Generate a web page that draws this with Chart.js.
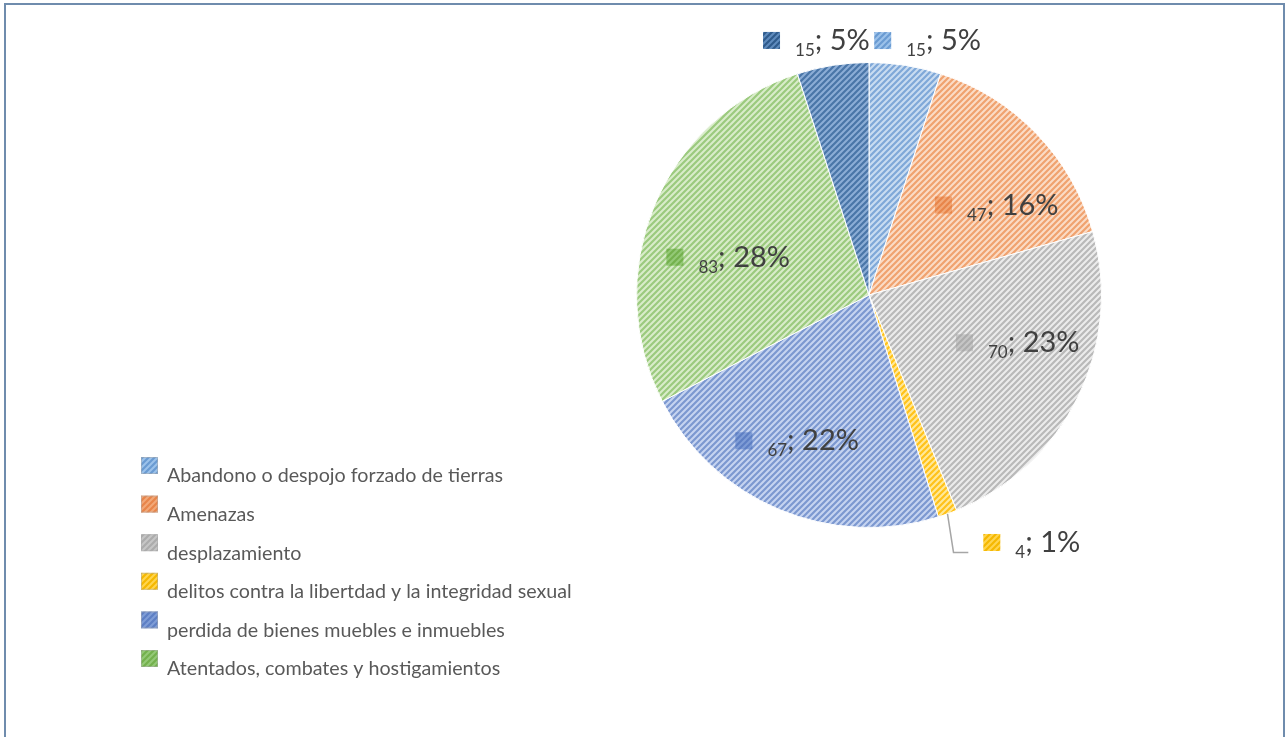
<!DOCTYPE html>
<html>
<head>
<meta charset="utf-8">
<script src="https://cdn.jsdelivr.net/npm/chart.js@4.4.1/dist/chart.umd.min.js"></script>
<style>
  html, body { margin: 0; padding: 0; background: #ffffff; overflow: hidden; }
  #wrap { position: relative; width: 1286px; height: 737px; }
  #frame { position: absolute; left: 4px; top: 3px; width: 1277px; height: 760px;
           border: 2px solid #6f8cad; border-bottom: none; pointer-events: none; }
  canvas { position: absolute; left: 0; top: 0; }
</style>
</head>
<body>
<div id="wrap">
  <canvas id="c" width="1286" height="737"></canvas>
  <div id="frame"></div>
</div>
<script>
// ---- data ----
const categories = [
  "Abandono o despojo forzado de tierras",
  "Amenazas",
  "desplazamiento",
  "delitos contra la libertdad y la integridad sexual",
  "perdida de bienes muebles e inmuebles",
  "Atentados, combates y hostigamientos",
  ""
];
const values = [15, 47, 70, 4, 67, 83, 15];

// ---- styles ----
const baseColors   = ["#c9dcf1", "#fbdcc6", "#ececec", "#ffe89a", "#c6d4f0", "#d9ecca", "#8cadd6"];
const stripeColors = ["#7fa8d8", "#f0a26f", "#b9b9b9", "#ffc21a", "#7c98d0", "#9bca7e", "#4a76a8"];
const markerBase   = ["#9cc2ea", "#f2a878", "#c6c6c6", "#ffd54f", "#7f9dd6", "#94c977", "#5f8bbd"];
const markerStripe = ["#6a9bd2", "#e8854a", "#acacac", "#f5b800", "#5e7fc4", "#74b14d", "#2f5b8c"];
// label placement: [angle shift from slice middle (deg), radius factor]
const labelPlace = [[4, 1.123], [8.8, 0.672], [-8.2, 0.672], [-13.6, 1.274], [3.5, 0.699], [-7.4, 0.627], [-2.7, 1.118]];
const leaderFor = [false, false, false, true, false, false, false];
const FONT = "Lato, 'Open Sans', sans-serif";

function makePattern(bg, fg) {
  const c = document.createElement('canvas');
  c.width = 6; c.height = 6;
  const g = c.getContext('2d');
  g.fillStyle = bg; g.fillRect(0, 0, 6, 6);
  g.strokeStyle = fg; g.lineWidth = 2.2;
  g.beginPath();
  g.moveTo(-1, 7); g.lineTo(7, -1);
  g.moveTo(-2, 2); g.lineTo(2, -2);
  g.moveTo(4, 8); g.lineTo(8, 4);
  g.stroke();
  return g.createPattern(c, 'repeat');
}
const patterns = baseColors.map((b, i) => makePattern(b, stripeColors[i]));
const markerPatterns = markerBase.map((b, i) => makePattern(b, markerStripe[i]));

const labelPlugin = {
  id: 'labels',
  afterDatasetsDraw(chart) {
    const ctx = chart.ctx;
    const meta = chart.getDatasetMeta(0);
    const data = chart.data.datasets[0].data;
    const total = data.reduce((a, b) => a + b, 0);
    ctx.save();
    meta.data.forEach((arc, i) => {
      const p = arc.getProps(['x', 'y', 'startAngle', 'endAngle', 'outerRadius'], true);
      const midRaw = (p.startAngle + p.endAngle) / 2;
      const mid = midRaw + labelPlace[i][0] * Math.PI / 180;
      const r = p.outerRadius * labelPlace[i][1];
      const cx = p.x + Math.cos(mid) * r;
      const cy = p.y + Math.sin(mid) * r;
      const small = String(data[i]);
      const big = '; ' + Math.round(data[i] / total * 100) + '%';
      ctx.font = "17px " + FONT;
      const sw = ctx.measureText(small).width;
      ctx.font = "29px " + FONT;
      const bw = ctx.measureText(big).width;
      const mW = 17, gap = 15;
      const totalW = mW + gap + sw + bw;
      const left = cx - totalW / 2;
      // marker
      ctx.fillStyle = markerPatterns[i];
      ctx.fillRect(left, cy - 8.5, mW, mW);
      // text
      ctx.fillStyle = '#404040';
      ctx.textBaseline = 'alphabetic';
      ctx.textAlign = 'left';
      ctx.font = "17px " + FONT;
      ctx.fillText(small, left + mW + gap, cy + 15.5);
      ctx.font = "29px " + FONT;
      ctx.fillText(big, left + mW + gap + sw, cy + 9.5);
      if (leaderFor[i]) {
        const sx = p.x + Math.cos(midRaw) * p.outerRadius;
        const sy = p.y + Math.sin(midRaw) * p.outerRadius;
        const ly = cy + 10;
        ctx.strokeStyle = '#a6a6a6';
        ctx.lineWidth = 1.5;
        ctx.beginPath();
        ctx.moveTo(sx, sy);
        ctx.lineTo(sx + 6, ly);
        ctx.lineTo(left - 15, ly);
        ctx.stroke();
      }
    });
    // legend
    const lx = 141, ly0 = 457, step = 38.6;
    let row = 0;
    chart.data.labels.forEach((lab, i) => {
      if (!lab) return;
      const y = ly0 + row * step;
      ctx.fillStyle = markerPatterns[i];
      ctx.fillRect(lx, y, 17, 17);
      ctx.strokeStyle = 'rgba(170,170,170,0.5)';
      ctx.lineWidth = 1;
      ctx.strokeRect(lx + 0.5, y + 0.5, 16, 16);
      ctx.fillStyle = '#595959';
      ctx.font = "19.7px " + FONT;
      ctx.textAlign = 'left';
      ctx.textBaseline = 'alphabetic';
      ctx.fillText(lab, 167, y + 25.3);
      row++;
    });
    ctx.restore();
  }
};

new Chart(document.getElementById('c'), {
  type: 'pie',
  data: {
    labels: categories,
    datasets: [{
      data: values,
      backgroundColor: patterns,
      borderColor: '#ffffff',
      borderWidth: 1
    }]
  },
  options: {
    responsive: false,
    animation: false,
    devicePixelRatio: 1,
    layout: { padding: { left: 636, right: 184, top: 62, bottom: 209 } },
    plugins: { legend: { display: false }, tooltip: { enabled: false } }
  },
  plugins: [labelPlugin]
});
</script>
</body>
</html>
